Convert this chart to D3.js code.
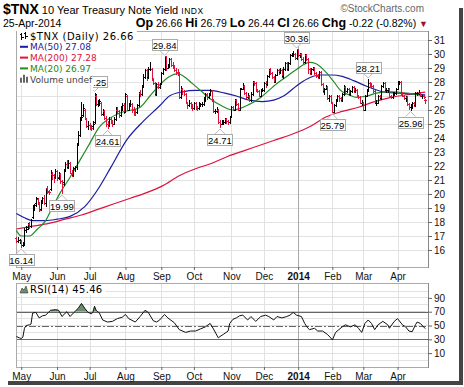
<!DOCTYPE html>
<html>
<head>
<meta charset="utf-8">
<script src="https://cdn.jsdelivr.net/npm/d3@7"></script>
<style>
  body { margin: 0; background: #fff; }
  svg { display: block; }
</style>
</head>
<body>
<div id="chart"></div>
<script>
// trading day index 0 = 26-Apr-2013 ... 251 = 25-Apr-2014
const monthLabels = ["May", "Jun", "Jul", "Aug", "Sep", "Oct", "Nov", "Dec", "2014", "Feb", "Mar", "Apr"];
const monthStarts = [3, 25, 45, 67, 89, 109, 132, 152, 173, 194, 213, 234];
const priceTicks = [16, 17, 18, 19, 20, 21, 22, 23, 24, 25, 26, 27, 28, 29, 30, 31];
const rsiTicks = [10, 30, 50, 70, 90];

const opens = [
  16.8, 16.6, 16.7,
  16.6, 16.3, 16.4, 17.4, 17.6, 17.8, 17.7, 18.3, 18.9, 19.3, 19.6, 19.3, 18.9, 19.5, 19.7, 19.3, 20.4, 20.1, 20.3, 21.4, 21.3, 21.2,
  21.6, 21.1, 21.4, 20.9, 20.8, 21.7, 22.1, 21.9, 22.2, 21.5, 21.3, 21.8, 21.9, 23.6, 24.2, 25.3, 25.6, 26.0, 25.3, 24.8,
  24.9, 24.7, 24.8, 25.1, 27.0, 26.4, 26.4, 26.5, 25.7, 25.9, 25.4, 25.0, 24.9, 25.3, 25.1, 25.0, 25.3, 26.0, 25.9, 25.6, 26.1, 26.3,
  25.8, 27.0, 26.0, 26.4, 26.4, 26.0, 25.9, 25.8, 26.3, 27.2, 27.1, 27.7, 28.3, 28.8, 28.3, 28.9, 28.9, 28.2, 27.9, 27.1, 27.8, 27.6,
  27.9, 28.6, 28.9, 29.8, 29.0, 29.1, 29.6, 29.2, 29.1, 28.8, 28.7, 28.5, 26.9, 27.5, 27.3, 27.1, 26.5, 26.3, 26.5, 26.2,
  26.1, 26.5, 26.2, 26.1, 26.4, 26.4, 26.4, 26.7, 27.1, 26.9, 27.1, 27.3, 26.7, 25.9, 25.9, 26.0, 25.1, 25.0, 25.1, 25.1, 25.3, 25.2, 25.1,
  25.5, 26.2, 26.0, 26.7, 26.4, 26.0, 27.5, 27.5, 27.7, 27.2, 26.9, 27.0, 26.7, 27.1, 28.0, 27.9, 27.4, 27.3, 27.0, 27.4,
  27.4, 27.9, 27.8, 28.4, 28.8, 28.6, 28.3, 28.0, 28.5, 28.8, 28.7, 28.8, 28.4, 28.9, 29.3, 28.9, 29.3, 29.9, 30.0, 30.0, 29.7,
  30.3, 29.9, 30.0, 29.6, 29.4, 29.9, 29.6, 28.9, 28.6, 28.9, 29.0, 28.6, 28.4, 28.3, 28.7, 27.8, 27.3, 27.5, 27.6, 26.8, 27.0,
  26.5, 25.8, 26.3, 26.7, 27.0, 26.8, 26.7, 27.1, 27.6, 27.3, 27.5, 27.1, 27.3, 27.6, 27.3, 27.4, 27.0, 26.9, 26.5,
  26.5, 26.0, 27.0, 27.4, 27.9, 27.8, 27.7, 27.3, 26.5, 26.5, 27.0, 26.8, 27.7, 27.9, 27.4, 27.4, 27.5, 27.0, 26.9, 27.2, 27.2,
  27.5, 28.0, 28.0, 27.2, 27.0, 26.8, 26.9, 26.4, 26.2, 26.2, 26.5, 26.3, 27.2, 27.2, 27.2, 27.0, 27.0, 26.66
];
const highs = [
  16.9, 16.9, 16.8,
  16.7, 16.6, 17.6, 17.7, 17.9, 18.0, 18.2, 19.2, 19.3, 19.8, 19.7, 19.4, 19.6, 19.8, 19.9, 20.4, 20.6, 20.3, 21.7, 21.6, 21.4, 21.8,
  21.7, 21.6, 21.5, 21.0, 21.8, 22.3, 22.4, 22.4, 22.3, 21.7, 21.9, 22.0, 23.6, 24.5, 25.5, 26.6, 26.4, 26.1, 25.4, 25.2,
  25.1, 24.9, 25.2, 27.25, 27.1, 26.7, 26.8, 26.6, 26.1, 26.0, 25.6, 25.2, 25.5, 25.5, 25.3, 25.5, 26.2, 26.2, 26.0, 26.3, 26.5, 26.5,
  27.2, 27.1, 26.5, 26.7, 26.5, 26.2, 26.1, 26.4, 27.3, 27.4, 27.8, 28.6, 28.9, 28.9, 29.1, 29.4, 29.0, 28.3, 28.0, 27.9, 28.0, 27.9,
  28.7, 29.0, 29.84, 29.8, 29.3, 29.7, 29.7, 29.4, 29.2, 29.0, 28.9, 28.7, 27.7, 27.6, 27.4, 27.2, 26.6, 26.7, 26.6, 26.4,
  26.6, 26.6, 26.3, 26.6, 26.5, 26.6, 26.9, 27.2, 27.2, 27.2, 27.5, 27.4, 26.8, 26.1, 26.2, 26.1, 25.3, 25.3, 25.3, 25.4, 25.4, 25.3, 25.6,
  26.3, 26.3, 26.8, 26.8, 26.5, 27.6, 27.6, 27.9, 27.8, 27.3, 27.2, 27.1, 27.3, 28.1, 28.1, 28.0, 27.5, 27.4, 27.5, 27.6,
  28.0, 28.1, 28.5, 28.9, 29.0, 28.7, 28.4, 28.6, 28.9, 28.9, 29.0, 28.9, 29.1, 29.4, 29.4, 29.4, 30.0, 30.1, 30.2, 30.1, 30.36,
  30.3, 30.1, 30.1, 29.8, 30.0, 30.0, 29.7, 29.0, 29.0, 29.1, 29.1, 28.7, 28.6, 28.8, 28.8, 27.9, 27.6, 27.8, 27.7, 27.1, 27.1,
  26.6, 26.4, 26.8, 27.1, 27.1, 26.9, 27.2, 27.8, 27.7, 27.6, 27.6, 27.4, 27.7, 27.7, 27.6, 27.5, 27.1, 27.0, 26.7,
  26.6, 27.1, 27.5, 28.21, 28.0, 27.9, 27.8, 27.4, 26.7, 27.1, 27.1, 27.8, 28.0, 28.0, 27.6, 27.6, 27.6, 27.1, 27.3, 27.3, 27.6,
  28.1, 28.1, 28.1, 27.3, 27.1, 27.0, 27.0, 26.5, 26.4, 26.6, 26.6, 27.3, 27.3, 27.4, 27.3, 27.1, 27.1, 26.79
];
const lows = [
  16.5, 16.5, 16.4,
  16.14, 16.2, 16.3, 17.2, 17.4, 17.5, 17.6, 18.2, 18.8, 19.1, 19.2, 18.7, 18.8, 19.3, 19.2, 19.1, 20.0, 19.9, 20.2, 21.0, 20.8, 21.1,
  20.9, 21.0, 20.7, 19.99, 20.6, 21.6, 21.8, 21.8, 21.4, 21.2, 21.2, 21.6, 21.7, 23.5, 24.1, 25.2, 25.5, 25.3, 24.7, 24.6,
  24.6, 24.5, 24.6, 25.0, 26.3, 26.2, 26.3, 25.6, 25.6, 25.3, 24.8, 24.61, 24.8, 25.0, 24.8, 24.9, 25.2, 25.7, 25.4, 25.5, 25.9, 25.7,
  25.8, 25.9, 25.9, 26.2, 25.8, 25.6, 25.6, 25.7, 26.2, 26.9, 27.0, 27.6, 28.2, 28.1, 28.2, 28.8, 28.1, 27.8, 27.0, 27.0, 27.5, 27.5,
  27.8, 28.5, 28.8, 28.8, 28.9, 29.0, 29.1, 28.9, 28.7, 28.5, 28.4, 26.8, 26.8, 27.1, 27.0, 26.4, 26.1, 26.2, 26.1, 25.9,
  26.0, 26.0, 25.9, 26.0, 26.2, 26.2, 26.3, 26.6, 26.7, 26.8, 27.0, 26.6, 25.8, 25.7, 25.8, 25.0, 24.71, 24.9, 24.9, 25.0, 25.0, 24.9, 25.0,
  25.4, 25.9, 25.9, 26.3, 25.9, 25.9, 27.4, 27.4, 27.1, 26.8, 26.8, 26.6, 26.6, 27.0, 27.7, 27.3, 27.2, 26.9, 26.9, 27.3,
  27.3, 27.6, 27.7, 28.3, 28.5, 28.2, 27.9, 27.9, 28.4, 28.5, 28.6, 28.3, 28.2, 28.8, 28.8, 28.8, 29.2, 29.8, 29.8, 29.6, 29.6,
  29.8, 29.7, 29.5, 29.3, 29.3, 29.5, 28.6, 28.5, 28.5, 28.8, 28.5, 28.3, 28.2, 28.2, 27.7, 27.2, 27.1, 27.4, 26.7, 26.6, 26.4,
  25.79, 25.8, 26.2, 26.6, 26.6, 26.6, 26.6, 27.0, 27.1, 27.2, 27.0, 27.0, 27.2, 27.2, 27.2, 26.9, 26.8, 26.4, 26.3,
  25.9, 25.9, 26.9, 27.3, 27.6, 27.5, 27.2, 26.4, 26.3, 26.4, 26.7, 26.7, 27.6, 27.3, 27.2, 27.2, 26.9, 26.8, 26.8, 27.0, 27.1,
  27.4, 27.8, 27.1, 26.9, 26.7, 26.6, 26.3, 26.0, 25.96, 26.1, 26.2, 26.2, 27.0, 27.1, 26.9, 26.8, 26.8, 26.44
];
const closes = [
  16.6, 16.7, 16.7,
  16.3, 16.3, 17.4, 17.5, 17.8, 17.7, 18.1, 19.0, 19.2, 19.7, 19.4, 18.8, 19.5, 19.7, 19.3, 20.3, 20.2, 20.1, 21.5, 21.3, 21.1, 21.6,
  21.2, 21.5, 20.9, 20.7, 21.7, 22.1, 21.9, 22.2, 21.5, 21.3, 21.8, 21.9, 23.5, 24.2, 25.3, 25.5, 26.1, 25.4, 24.8, 24.9,
  24.8, 24.7, 25.0, 27.1, 26.4, 26.4, 26.6, 25.7, 25.9, 25.4, 25.0, 24.9, 25.3, 25.2, 25.0, 25.3, 26.0, 25.9, 25.6, 26.1, 26.3, 25.8,
  27.1, 26.0, 26.4, 26.4, 26.0, 25.9, 25.8, 26.3, 27.2, 27.1, 27.7, 28.3, 28.8, 28.3, 28.9, 28.9, 28.2, 27.9, 27.1, 27.8, 27.6, 27.8,
  28.6, 28.9, 29.8, 29.0, 29.1, 29.6, 29.2, 29.1, 28.8, 28.7, 28.5, 26.9, 27.5, 27.3, 27.1, 26.5, 26.3, 26.5, 26.2, 26.1,
  26.5, 26.2, 26.1, 26.4, 26.4, 26.4, 26.7, 27.1, 26.9, 27.1, 27.3, 26.7, 25.9, 25.9, 26.0, 25.1, 25.0, 25.1, 25.1, 25.3, 25.2, 25.1, 25.5,
  26.2, 26.0, 26.7, 26.4, 26.0, 27.5, 27.5, 27.7, 27.2, 26.9, 27.0, 26.7, 27.1, 28.0, 27.9, 27.4, 27.3, 27.0, 27.4, 27.4,
  27.9, 27.8, 28.4, 28.8, 28.6, 28.3, 28.0, 28.5, 28.8, 28.7, 28.8, 28.4, 28.9, 29.3, 28.9, 29.3, 29.9, 30.0, 30.0, 29.7, 30.3,
  29.9, 30.0, 29.6, 29.4, 29.9, 29.6, 28.9, 28.6, 28.9, 29.0, 28.6, 28.4, 28.3, 28.7, 27.8, 27.3, 27.5, 27.6, 26.8, 27.0, 26.5,
  25.8, 26.3, 26.7, 27.0, 26.8, 26.7, 27.1, 27.6, 27.3, 27.5, 27.1, 27.3, 27.6, 27.3, 27.4, 27.0, 26.9, 26.5, 26.5,
  26.0, 27.0, 27.4, 27.9, 27.8, 27.7, 27.3, 26.5, 26.5, 27.0, 26.8, 27.7, 27.9, 27.4, 27.4, 27.5, 27.0, 26.9, 27.2, 27.2, 27.5,
  28.0, 28.0, 27.2, 27.0, 26.8, 26.9, 26.4, 26.2, 26.2, 26.5, 26.3, 27.2, 27.2, 27.2, 27.0, 27.0, 26.88, 26.66
];

// moving averages: [day index, value]
const ma20 = [[0,17.4],[3,17.0],[8,17.0],[13,17.5],[18,18.1],[22,19.0],[27,20.1],[33,21.2],[39,22.4],[45,23.6],[51,24.8],[56,25.3],
  [64,25.8],[76,26.2],[82,27.0],[88,27.8],[94,28.4],[99,28.6],[104,28.3],[108,27.9],[114,27.3],[119,26.8],[126,26.3],[133,26.0],
  [143,26.4],[150,26.9],[160,27.9],[166,28.4],[172,28.9],[180,29.4],[184,29.3],[190,28.7],[195,28.0],[199,27.4],[204,27.1],
  [209,26.9],[215,27.0],[221,27.2],[226,27.3],[231,27.3],[240,27.2],[251,26.97]];
const ma50 = [[0,18.6],[5,18.3],[10,18.1],[18,18.1],[25,18.2],[33,18.4],[42,19.1],[51,20.5],[58,21.9],[68,23.9],[78,25.2],
  [88,26.3],[94,27.0],[102,27.3],[110,27.4],[119,27.4],[128,27.2],[135,27.0],[143,26.7],[151,26.6],[158,26.7],[164,27.0],
  [174,27.9],[180,28.3],[186,28.5],[194,28.5],[200,28.4],[207,28.1],[215,27.7],[225,27.3],[235,27.2],[251,27.08]];
const ma200 = [[0,17.5],[10,17.7],[20,17.9],[30,18.2],[40,18.5],[50,18.9],[60,19.3],[70,19.7],[80,20.1],[90,20.6],[100,21.3],
  [110,21.8],[120,22.2],[130,22.7],[140,23.1],[150,23.5],[160,23.9],[170,24.3],[180,24.8],[190,25.5],[200,25.9],[210,26.2],
  [220,26.6],[230,26.9],[240,27.1],[251,27.28]];

const rsi = [[0,34],[2,32],[3,31],[4,33],[5,46],[6,50],[8,51],[9,52],[10,68],[12,69],[14,61],[16,64],[18,65],[21,72],[24,73],
  [26,72],[28,63],[31,70],[33,63],[35,68],[38,75],[40,82],[42,75],[44,69],[45,68],[46,67],[47,69],[48,78],[49,72],[51,68],
  [53,58],[56,55],[59,56],[62,60],[65,62],[67,66],[69,60],[73,55],[76,63],[79,72],[81,69],[84,57],[86,55],[88,58],[91,66],
  [93,61],[97,54],[100,44],[104,40],[107,42],[110,42],[113,45],[116,48],[119,53],[121,45],[124,32],[125,34],[127,37],[130,42],
  [131,53],[133,59],[135,61],[137,64],[139,65],[142,58],[144,63],[147,56],[150,63],[153,65],[155,63],[158,58],[160,63],
  [163,61],[166,63],[168,65],[170,69],[172,65],[175,63],[176,58],[177,53],[179,46],[180,44],[183,46],[185,42],[188,42],
  [191,37],[193,32],[194,29],[196,40],[198,44],[200,48],[202,51],[205,48],[208,51],[210,46],[212,40],[214,53],[216,58],
  [218,53],[220,44],[222,51],[225,56],[228,51],[229,46],[232,56],[234,60],[237,51],[239,48],[241,42],[243,41],[245,51],
  [246,55],[248,53],[251,45.46]];

// labelled highs and lows
const markIdx = [3, 28, 48, 56, 91, 125, 172, 194, 216, 242];
const markSide = ["low", "low", "high", "low", "high", "low", "high", "low", "high", "low"];

const legendText = ["$TNX (Daily) 26.66", "MA(50) 27.08", "MA(200) 27.28", "MA(20) 26.97", "Volume undef"];

const W = 464, H = 387;
const L = 16, R = 428, T = 31, B = 267;
const rT = 283, rB = 367;
const red = "#dc143c", navy = "#1c1ca0", green = "#228b22";
const sans = "Liberation Sans, Arial, sans-serif";

const svg = d3.select("#chart").append("svg")
  .attr("width", W)
  .attr("height", H)
  .style("font-family", sans);

const x = d3.scaleLinear().domain([-0.2, 252.7]).range([L, R]);
const y = d3.scaleLinear().domain([31, 16]).range([40, 250]);
const yr = d3.scaleLinear().domain([70, 30]).range([311.7, 339.3]);

// card shadow
svg.append("rect").attr("x", 459).attr("y", 8).attr("width", 4).attr("height", 376).attr("fill", "#444");
svg.append("rect").attr("x", 8).attr("y", 381).attr("width", 455).attr("height", 4).attr("fill", "#444");
svg.append("rect").attr("x", 0).attr("y", 0).attr("width", 459).attr("height", 381).attr("fill", "#fff");

// header
svg.append("text").attr("x", 3).attr("y", 14)
  .call(t => {
    t.append("tspan").attr("font-weight", "bold").attr("font-size", 14).text("$TNX");
    t.append("tspan").attr("font-size", 11).text(" 10 Year Treasury Note Yield ");
    t.append("tspan").attr("font-size", 8.5).attr("letter-spacing", 0.5).text("INDX");
  });
svg.append("text").attr("x", 3).attr("y", 27).attr("font-size", 10.5).text("25-Apr-2014");
svg.append("text").attr("x", 424).attr("y", 12).attr("font-size", 10).attr("fill", "#666")
  .attr("text-anchor", "end").text("\u00a9StockCharts.com");

const quote = [["Op", " 26.66 "], ["Hi", " 26.79 "], ["Lo", " 26.44 "], ["Cl", " 26.66 "], ["Chg", " -0.22 (-0.82%) "]];
const qt = svg.append("text").attr("x", R).attr("y", 27).attr("text-anchor", "end");
quote.forEach(q => {
  qt.append("tspan").attr("font-weight", "bold").attr("font-size", 12.5).text(q[0]);
  qt.append("tspan").attr("font-size", 10.5).text(q[1]);
});
qt.append("tspan").attr("font-size", 9).attr("fill", "#a01030").text("\u25bc");

// grids
const grid = svg.append("g").attr("shape-rendering", "crispEdges");
grid.selectAll(".hg").data(priceTicks).join("line")
  .attr("x1", L).attr("x2", R).attr("y1", d => y(d)).attr("y2", d => y(d))
  .attr("stroke", "#e2e2e2");
grid.selectAll(".rg").data(d3.range(0, 101, 10)).join("line")
  .attr("x1", L).attr("x2", R).attr("y1", d => yr(d)).attr("y2", d => yr(d))
  .attr("stroke", "#e2e2e2");
[[T, B], [rT, rB]].forEach(([a, b]) => {
  grid.append("g").selectAll("line").data(monthStarts).join("line")
    .attr("x1", d => Math.round(x(d)) + 0.5).attr("x2", d => Math.round(x(d)) + 0.5)
    .attr("y1", a).attr("y2", b)
    .attr("stroke", (d, i) => monthLabels[i] === "2014" ? "#aaa" : "#e2e2e2");
});

// RSI reference lines
const rl = svg.append("g").attr("shape-rendering", "crispEdges");
[70, 30].forEach(v => rl.append("line").attr("x1", L).attr("x2", R)
  .attr("y1", Math.round(yr(v)) + 0.5).attr("y2", Math.round(yr(v)) + 0.5).attr("stroke", "#666"));
rl.append("line").attr("x1", L).attr("x2", R)
  .attr("y1", Math.round(yr(50)) + 0.5).attr("y2", Math.round(yr(50)) + 0.5)
  .attr("stroke", "#666").attr("stroke-dasharray", "7,2,2,2");

// frames
const frame = svg.append("g").attr("shape-rendering", "crispEdges").attr("fill", "none");
frame.append("rect").attr("x", L + 0.5).attr("y", T + 0.5).attr("width", R - L).attr("height", B - T).attr("stroke", "#aaa");
frame.append("rect").attr("x", L + 0.5).attr("y", rT + 0.5).attr("width", R - L).attr("height", rB - rT).attr("stroke", "#aaa");
frame.append("line").attr("x1", R + 0.5).attr("x2", R + 0.5).attr("y1", T).attr("y2", B + 1).attr("stroke", "#888");
frame.append("line").attr("x1", R + 0.5).attr("x2", R + 0.5).attr("y1", rT).attr("y2", rB + 1).attr("stroke", "#888");

// axes
function styleAxis(g) {
  g.select(".domain").remove();
  g.selectAll(".tick line").attr("stroke", "#666");
  g.selectAll(".tick text").attr("fill", "#111").attr("font-size", 10).attr("font-family", sans);
}
svg.append("g").attr("transform", `translate(${R},0)`)
  .call(d3.axisRight(y).tickValues(priceTicks).tickSize(4).tickPadding(2))
  .call(styleAxis);
svg.append("g").attr("transform", `translate(${R},0)`)
  .call(d3.axisRight(yr).tickValues(rsiTicks).tickSize(4).tickPadding(2))
  .call(styleAxis);
[B, rB].forEach(yy => {
  svg.append("g").attr("transform", `translate(0,${yy})`)
    .call(d3.axisBottom(x).tickValues(monthStarts).tickFormat((d, i) => monthLabels[i]).tickSize(3).tickPadding(3))
    .call(styleAxis)
    .selectAll(".tick text").attr("font-weight", (d, i) => monthLabels[i] === "2014" ? "bold" : null);
});

// moving averages
const maLine = d3.line().x(d => x(d[0])).y(d => y(d[1])).curve(d3.curveMonotoneX);
[[ma200, red], [ma50, navy], [ma20, green]].forEach(([m, c]) => {
  svg.append("path").datum(m).attr("d", maLine).attr("fill", "none").attr("stroke", c).attr("stroke-width", 1.2);
});

// OHLC bars
svg.append("g").attr("shape-rendering", "crispEdges")
  .selectAll("path").data(closes).join("path")
  .attr("d", (c, i) => {
    const cx = Math.round(x(i)) + 0.5;
    return `M${cx},${y(highs[i])}V${y(lows[i])}M${cx - 1.5},${y(opens[i])}H${cx}M${cx},${y(c)}H${cx + 1.5}`;
  })
  .attr("fill", "none")
  .attr("stroke", (c, i) => c < (i ? closes[i - 1] : opens[i]) ? red : "#000");

// legend font
const legFont = "DejaVu Sans, Verdana, sans-serif";
const legSize = [10, 9, 9, 9, 9];
const legSpacing = [0.5, 0, 0, 0, 0];
const defs = svg.append("defs");
const hideRight = 93; // legend covers the plot up to here in the top-left corner

// high / low tags; the one tucked under the legend only shows its right end
const tags = svg.append("g").attr("font-size", 9.5);
markIdx.forEach((i, k) => {
  const hi = markSide[k] === "high";
  const v = hi ? highs[i] : lows[i];
  const px = x(i), py = y(v);
  const bw = 25, bh = 11;
  const by = hi ? py - 6 - bh : py + 6;
  const tip = hi ? py - 1 : py + 1;
  const base = hi ? by + bh : by;
  const g = tags.append("g");
  const hidden = by < 90 && px - bw / 2 < hideRight;
  if (hidden) {
    defs.append("clipPath").attr("id", "tagclip" + k).append("rect")
      .attr("x", hideRight).attr("y", 0).attr("width", 100).attr("height", 200);
    g.attr("clip-path", `url(#tagclip${k})`);
  }
  g.append("path")
    .attr("d", `M${px - 5},${base}L${px},${tip}L${px + 5},${base}`)
    .attr("fill", "#fff").attr("stroke", "#bbb");
  g.append("rect").attr("x", Math.round(px - bw / 2) + 0.5).attr("y", Math.round(by) + 0.5)
    .attr("width", bw).attr("height", bh).attr("fill", "#fff").attr("stroke", "#aaa");
  const label = v.toFixed(2);
  const t = tags.append("text").attr("x", px).attr("y", Math.round(by) + 9.5)
    .attr("text-anchor", "middle").text(label);
  if (hidden) {
    const full = t.node().getComputedTextLength();
    t.attr("x", px + full / 2).attr("text-anchor", "end").text(label.slice(-3));
  }
});

// RSI
const rsiLine = d3.line().x(d => x(d[0])).y(d => yr(d[1]));
defs.append("clipPath").attr("id", "above70").append("rect")
  .attr("x", L).attr("y", rT).attr("width", R - L).attr("height", yr(70) - rT);
defs.append("clipPath").attr("id", "below30").append("rect")
  .attr("x", L).attr("y", yr(30)).attr("width", R - L).attr("height", rB - yr(30));
svg.append("path").datum(rsi)
  .attr("d", d3.area().x(d => x(d[0])).y0(yr(70)).y1(d => yr(d[1])))
  .attr("clip-path", "url(#above70)").attr("fill", "#6b8f6b");
svg.append("path").datum(rsi)
  .attr("d", d3.area().x(d => x(d[0])).y0(yr(30)).y1(d => yr(d[1])))
  .attr("clip-path", "url(#below30)").attr("fill", "#6b8f6b");
svg.append("path").datum(rsi).attr("d", rsiLine)
  .attr("fill", "none").attr("stroke", "#111").attr("stroke-width", 1);

// legends
const leg = svg.append("g").attr("font-family", legFont);
const legColors = ["#000", navy, red, green, "#444"];
legendText.forEach((t, k) => {
  const by = 39.5 + k * 10.8;
  const txt = leg.append("text").attr("x", 30).attr("y", by)
    .attr("font-size", legSize[k]).attr("letter-spacing", legSpacing[k])
    .attr("fill", legColors[k]).text(t);
  const w = txt.node().getComputedTextLength();
  leg.insert("rect", "text").attr("x", L + 1).attr("y", by - 9)
    .attr("width", k === 4 ? hideRight - L - 1 : w + 16).attr("height", 11).attr("fill", "#fff");
  if (k === 0) {
    leg.append("path").attr("d", `M21.5,${by - 7}V${by}M19.5,${by - 5}H21.5M21.5,${by - 2}H23.5M25.5,${by - 8}V${by - 1}M23.5,${by - 6}H25.5M25.5,${by - 3}H27.5`)
      .attr("stroke", "#000").attr("fill", "none").attr("shape-rendering", "crispEdges");
  } else if (k < 4) {
    leg.append("rect").attr("x", 20).attr("y", by - 4.5).attr("width", 8).attr("height", 2).attr("fill", legColors[k]);
  } else {
    leg.append("path").attr("d", `M20,${by}V${by - 5}H22V${by}ZM23,${by}V${by - 8}H25V${by}ZM26,${by}V${by - 6}H28V${by}Z`)
      .attr("fill", "#666");
  }
});
const rsiLeg = leg.append("text").attr("x", 30).attr("y", 293).attr("font-size", 10).attr("letter-spacing", 0.3)
  .attr("fill", "#000").text("RSI(14) 45.46");
const rw = rsiLeg.node().getComputedTextLength();
leg.insert("rect", "text").attr("x", L + 1).attr("y", 284).attr("width", rw + 16).attr("height", 11).attr("fill", "#fff");
leg.append("path").attr("d", "M20,293L22,288L24,290L26,286L28,293Z").attr("fill", "#6b8f6b").attr("stroke", "#333").attr("stroke-width", 0.6);
</script>
</body>
</html>
